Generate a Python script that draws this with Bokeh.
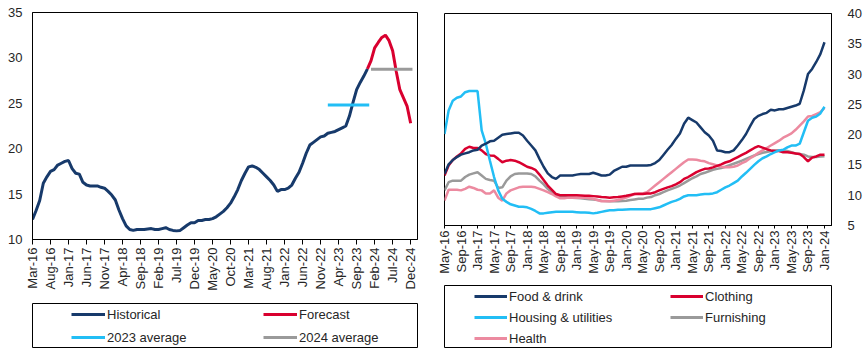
import numpy as np
import pandas as pd
from bokeh.plotting import figure
from bokeh.models import Range1d, FixedTicker, Legend, LegendItem
from bokeh.layouts import row, column
from bokeh.embed import file_html
from bokeh.resources import INLINE

FONT = "Liberation Sans"
FS = "13px"
TXT = "#262626"

# ---------------- Left chart data ----------------
left_months = list(pd.date_range("2016-03-01", "2024-12-01", freq="MS").strftime("%b-%y"))
left_tick_labels = ["Mar-16", "Aug-16", "Jan-17", "Jun-17", "Nov-17", "Apr-18", "Sep-18",
                    "Feb-19", "Jul-19", "Dec-19", "May-20", "Oct-20", "Mar-21", "Aug-21",
                    "Jan-22", "Jun-22", "Nov-22", "Apr-23", "Sep-23", "Feb-24", "Jul-24", "Dec-24"]
historical = [12.2, 13.2, 14.3, 16.2, 16.9, 17.5, 17.7, 18.2, 18.4, 18.6,
              18.7, 17.8, 17.3, 17.2, 16.3, 16.0, 15.9, 15.9, 15.9, 15.75,
              15.65, 15.3, 14.9, 14.35, 13.25, 12.3, 11.5, 11.1, 11.0, 11.1,
              11.1, 11.1, 11.15, 11.2, 11.1, 11.1, 11.2, 11.3, 11.1, 11.0,
              10.95, 11.0, 11.3, 11.6, 11.85, 11.85, 12.1, 12.1, 12.2, 12.2,
              12.3, 12.5, 12.8, 13.1, 13.5, 14.0, 14.7, 15.5, 16.5, 17.3,
              18.0, 18.1, 17.95, 17.7, 17.3, 16.9, 16.5, 16.0, 15.3, 15.5,
              15.5, 15.65, 16.0, 16.75, 17.4, 18.4, 19.5, 20.4, 20.7, 21.0,
              21.3, 21.4, 21.7, 21.8, 21.9, 22.1, 22.3, 22.5, 23.6, 25.1,
              26.5, 27.3, 28.0, 28.8]
forecast_start = "Dec-23"
forecast = [28.8, 29.7, 31.1, 31.7, 32.25, 32.5, 31.9, 30.8, 28.5, 26.5, 25.6, 24.7, 22.8]
avg_2023 = 24.8
avg_2024 = 28.75
avg_2023_months = ("Jan-23", "Dec-23")
avg_2024_months = ("Jan-24", "Dec-24")

# ---------------- Right chart data ----------------
right_months = list(pd.date_range("2016-05-01", "2024-01-01", freq="MS").strftime("%b-%y"))
right_tick_labels = ["May-16", "Sep-16", "Jan-17", "May-17", "Sep-17", "Jan-18", "May-18",
                     "Sep-18", "Jan-19", "May-19", "Sep-19", "Jan-20", "May-20", "Sep-20",
                     "Jan-21", "May-21", "Sep-21", "Jan-22", "May-22", "Sep-22", "Jan-23",
                     "May-23", "Sep-23", "Jan-24"]
food = [13.5, 15.1, 15.8, 16.3, 16.7, 16.9, 17.1, 17.4, 17.5, 18.2,
        18.5, 18.9, 19.0, 19.5, 20.0, 20.1, 20.2, 20.3, 20.3, 19.85,
        19.0, 18.2, 17.4, 16.0, 14.7, 13.6, 13.0, 12.7, 13.25, 13.25,
        13.25, 13.25, 13.4, 13.5, 13.5, 13.5, 13.7, 13.5, 13.25, 13.25,
        13.4, 14.0, 14.35, 14.7, 14.7, 14.9, 14.9, 14.9, 14.9, 14.9,
        15.0, 15.3, 15.8, 16.65, 17.5, 18.3, 19.3, 20.2, 21.8, 22.8,
        22.4, 22.0, 21.2, 20.4, 19.85, 19.0, 17.4, 17.3, 17.1, 17.1,
        17.4, 18.2, 19.1, 20.1, 21.4, 22.6, 23.1, 23.4, 23.6, 24.1,
        24.0, 24.2, 24.2, 24.4, 24.6, 24.8, 25.1, 27.3, 30.0, 30.85,
        32.0, 33.3, 35.25]
housing = [20.1, 24.0, 25.6, 26.1, 26.3, 27.0, 27.2, 27.2, 27.2, 20.7,
           18.5, 15.7, 13.0, 10.8, 9.4, 8.9, 8.5, 8.3, 8.1, 8.1,
           8.0, 7.75, 7.4, 7.0, 7.0, 7.1, 7.2, 7.25, 7.25, 7.25,
           7.25, 7.25, 7.2, 7.15, 7.15, 7.1, 7.0, 7.1, 7.25, 7.4,
           7.5, 7.5, 7.6, 7.6, 7.65, 7.7, 7.7, 7.7, 7.7, 7.7,
           7.7, 7.85, 8.0, 8.3, 8.6, 8.9, 9.1, 9.4, 9.8, 10.0,
           10.0, 10.0, 10.1, 10.2, 10.2, 10.3, 10.5, 10.9, 11.3, 11.6,
           12.0, 12.4, 13.1, 13.7, 14.35, 15.0, 15.6, 16.1, 16.4, 16.8,
           17.1, 17.4, 17.5, 17.9, 18.2, 18.2, 18.5, 20.4, 22.3, 22.8,
           23.0, 23.5, 24.6]
clothing = [13.25, 14.9, 15.8, 16.4, 16.9, 17.65, 18.0, 17.8, 17.8, 17.4,
            16.8, 16.55, 16.5, 16.0, 15.45, 15.7, 15.8, 15.7, 15.45, 15.1,
            14.7, 14.5, 14.2, 13.4, 12.5, 11.6, 10.9, 10.2, 10.0, 10.0,
            10.0, 10.0, 10.0, 9.95, 9.9, 9.9, 9.85, 9.8, 9.7, 9.65,
            9.6, 9.65, 9.7, 9.8, 9.9, 10.05, 10.2, 10.2, 10.2, 10.3,
            10.3, 10.5, 10.8, 11.05, 11.3, 11.5, 11.8, 12.15, 12.7, 13.0,
            13.4, 13.8, 14.1, 14.35, 14.4, 14.6, 14.85, 15.1, 15.4, 15.6,
            15.95, 16.3, 16.65, 17.0, 17.4, 17.8, 18.1, 17.85, 17.6, 17.4,
            17.3, 17.3, 17.1, 17.1, 17.0, 16.9, 16.8, 16.3, 15.6, 16.2,
            16.4, 16.7, 16.7]
furnishing = [10.8, 12.15, 12.4, 12.4, 12.4, 13.0, 13.4, 13.6, 13.8, 13.25,
              12.7, 12.5, 12.4, 11.2, 11.3, 12.4, 13.1, 13.5, 13.6, 13.6,
              13.6, 13.5, 13.1, 12.4, 11.8, 11.05, 10.5, 10.1, 9.8, 9.7,
              9.6, 9.6, 9.55, 9.5, 9.4, 9.35, 9.3, 9.2, 9.1, 9.05,
              9.0, 9.0, 9.0, 9.05, 9.1, 9.2, 9.3, 9.4, 9.4, 9.6,
              9.7, 10.0, 10.2, 10.5, 10.8, 11.05, 11.3, 11.6, 12.0, 12.4,
              12.8, 13.1, 13.5, 13.7, 13.95, 14.2, 14.35, 14.5, 14.7, 14.95,
              15.2, 15.45, 15.7, 16.0, 16.3, 16.55, 16.8, 17.0, 17.15, 17.3,
              17.4, 17.4, 17.4, 17.3, 17.1, 16.9, 16.8, 16.7, 16.4, 16.3,
              16.3, 16.4, 16.45]
health = [9.1, 10.9, 10.9, 10.9, 10.8, 11.05, 11.4, 11.2, 10.9, 10.8,
          10.3, 10.3, 10.8, 9.6, 9.1, 10.3, 10.8, 11.05, 11.3, 11.4,
          11.4, 11.4, 11.3, 11.05, 10.8, 10.5, 10.2, 9.8, 9.5, 9.5,
          9.6, 9.6, 9.6, 9.6, 9.6, 9.5, 9.4, 9.2, 9.0, 9.0,
          9.0, 9.1, 9.2, 9.4, 9.6, 9.9, 10.2, 10.3, 10.3, 10.5,
          11.05, 11.6, 12.15, 12.7, 13.25, 13.8, 14.35, 14.9, 15.45, 15.9,
          15.9, 15.85, 15.7, 15.6, 15.3, 15.1, 14.9, 14.7, 14.6, 14.6,
          14.7, 14.9, 15.3, 15.6, 16.1, 16.5, 17.0, 17.4, 17.8, 18.2,
          18.6, 19.0, 19.5, 19.85, 20.2, 20.8, 21.5, 22.2, 23.0, 23.1,
          23.4, 23.7, 24.4]

NAVY = "#173a6b"
RED = "#d9002f"
CYAN = "#22bef5"
GRAY = "#9a9a9a"
PINK = "#ec8aa0"


def style_axis(ax):
    ax.major_label_text_font = FONT
    ax.major_label_text_font_size = FS
    ax.major_label_text_color = TXT
    ax.axis_line_color = "black"
    ax.major_tick_line_color = "black"
    ax.minor_tick_line_color = None
    ax.minor_tick_out = 0
    ax.minor_tick_in = 0
    ax.major_tick_in = 0


def legend_fig(width, height, bl, br):
    f = figure(width=width, height=height, x_range=Range1d(0, 1), y_range=Range1d(0, 1),
               output_backend="svg", toolbar_location=None,
               x_axis_location=None, y_axis_location=None,
               min_border_left=bl, min_border_right=br, min_border_top=0, min_border_bottom=0)
    f.grid.visible = False
    f.outline_line_color = "black"
    f.outline_line_width = 1
    return f


# ---------------- Left chart ----------------
lx_end = len(left_months) + 0.9
pL = figure(width=430, height=303, x_range=Range1d(0, lx_end), y_range=Range1d(10, 35),
            output_backend="svg", toolbar_location=None,
            min_border_left=32, min_border_right=13, min_border_top=12, min_border_bottom=64)
pL.grid.visible = False
pL.outline_line_color = "black"
pL.outline_line_width = 1

hx = list(range(len(historical)))
f0 = left_months.index(forecast_start)
fx = list(range(f0, f0 + len(forecast)))
pL.line(hx, historical, line_color=NAVY, line_width=3)
pL.line(fx, forecast, line_color=RED, line_width=3)
a23 = [left_months.index(avg_2023_months[0]), left_months.index(avg_2023_months[1]) + 0.5]
a24 = [left_months.index(avg_2024_months[0]), left_months.index(avg_2024_months[1]) + 0.5]
pL.line(a23, [avg_2023, avg_2023], line_color=CYAN, line_width=3)
pL.line(a24, [avg_2024, avg_2024], line_color=GRAY, line_width=3)

lt = [left_months.index(l) for l in left_tick_labels]
pL.xaxis.ticker = FixedTicker(ticks=lt)
pL.xaxis.major_label_overrides = {t: l for t, l in zip(lt, left_tick_labels)}
pL.xaxis.major_label_orientation = np.pi / 2
pL.xaxis.major_tick_out = 5
pL.xaxis.major_label_standoff = 3
pL.yaxis.ticker = FixedTicker(ticks=[10, 15, 20, 25, 30, 35])
pL.yaxis.major_tick_out = 0
pL.yaxis.major_label_standoff = 10
style_axis(pL.xaxis[0])
style_axis(pL.yaxis[0])

# Left legend
lgL = legend_fig(430, 45, 32, 13)
left_labels = ["Historical", "Forecast", "2023 average", "2024 average"]
left_colors = [NAVY, RED, CYAN, GRAY]
itemsL = []
for lab, col in zip(left_labels, left_colors):
    r = lgL.line(x=np.array([np.nan, np.nan]), y=np.array([np.nan, np.nan]),
                 line_color=col, line_width=3)
    itemsL.append(LegendItem(label=lab, renderers=[r]))
legL = Legend(items=itemsL, location=(39, 1), orientation="horizontal", ncols=2,
              glyph_width=34, glyph_height=20, label_height=20, label_standoff=2,
              label_width=153, spacing=3, padding=0, margin=0,
              border_line_alpha=0, background_fill_alpha=0,
              label_text_font=FONT, label_text_font_size=FS, label_text_color=TXT)
lgL.add_layout(legL, "center")

# ---------------- Right chart ----------------
rx_end = (len(right_months) - 1) * 387 / 380
pR = figure(width=435, height=285, x_range=Range1d(0, rx_end), y_range=Range1d(5, 40),
            output_backend="svg", toolbar_location=None, y_axis_location="right",
            min_border_left=14, min_border_right=34, min_border_top=13, min_border_bottom=60)
pR.grid.visible = False
pR.outline_line_color = "black"
pR.outline_line_width = 1
rx = list(range(len(right_months)))
series_R = [("Food & drink", food, NAVY), ("Clothing", clothing, RED),
            ("Housing & utilities", housing, CYAN), ("Furnishing", furnishing, GRAY),
            ("Health", health, PINK)]
for name, vals, col in [series_R[3], series_R[4], series_R[1], series_R[2], series_R[0]]:
    pR.line(rx, vals, line_color=col, line_width=2.5)

rt = [right_months.index(l) for l in right_tick_labels]
pR.xaxis.ticker = FixedTicker(ticks=rt)
pR.xaxis.major_label_overrides = {t: l for t, l in zip(rt, right_tick_labels)}
pR.xaxis.major_label_orientation = np.pi / 2
pR.xaxis.major_tick_out = 3
pR.xaxis.major_label_standoff = 2
pR.yaxis.ticker = FixedTicker(ticks=[5, 10, 15, 20, 25, 30, 35, 40])
pR.yaxis.major_tick_out = 0
pR.yaxis.major_label_standoff = 16
style_axis(pR.xaxis[0])
style_axis(pR.yaxis[0])

# Right legend
lgR = legend_fig(435, 63, 11, 29)
itemsR = []
for name, vals, col in series_R:
    r = lgR.line(x=np.array([np.nan, np.nan]), y=np.array([np.nan, np.nan]),
                 line_color=col, line_width=3)
    itemsR.append(LegendItem(label=name, renderers=[r]))
legR = Legend(items=itemsR, location=(30, 0), orientation="horizontal", ncols=2,
              glyph_width=33, glyph_height=20, label_height=20, label_standoff=2,
              label_width=160, spacing=1, padding=0, margin=0,
              border_line_alpha=0, background_fill_alpha=0,
              label_text_font=FONT, label_text_font_size=FS, label_text_color=TXT)
lgR.add_layout(legR, "center")

layout = row(column(pL, lgL, spacing=0), column(pR, lgR, spacing=0), spacing=0)

with open("out.html", "w") as f:
    f.write(file_html(layout, INLINE))
